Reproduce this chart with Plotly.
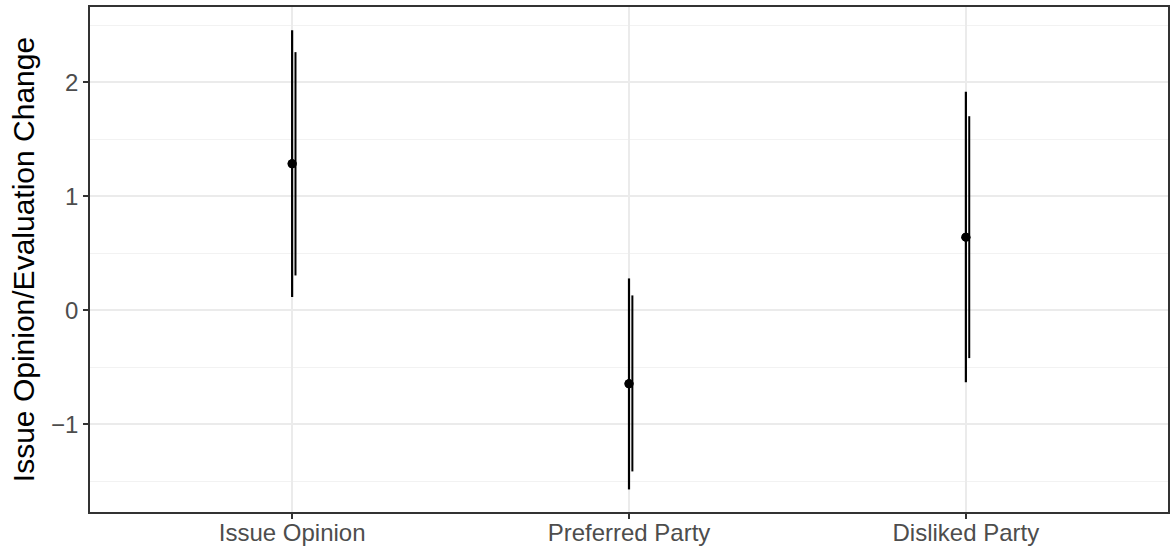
import plotly.graph_objects as go

categories = ["Issue Opinion", "Preferred Party", "Disliked Party"]
estimate = [1.287, -0.643, 0.643]
lo95 = [0.117, -1.570, -0.629]
hi95 = [2.459, 0.281, 1.918]
lo90 = [0.307, -1.412, -0.418]
hi90 = [2.266, 0.132, 1.704]

y_ticks = [-1, 0, 1, 2]
dodge = 0.01  # horizontal shift of the inner interval (axis units)

xpos = list(range(1, len(categories) + 1))
FONT = "Liberation Sans, Arial, Helvetica, sans-serif"

fig = go.Figure()

# outer (long) interval + point estimate
fig.add_trace(go.Scatter(
    x=xpos, y=estimate, mode="markers",
    marker=dict(color="black", size=9),
    error_y=dict(type="data", symmetric=False,
                 array=[h - e for h, e in zip(hi95, estimate)],
                 arrayminus=[e - l for e, l in zip(estimate, lo95)],
                 color="black", thickness=2.2, width=0),
    showlegend=False, hoverinfo="skip"))

# inner (short) interval, slightly dodged
fig.add_trace(go.Scatter(
    x=[x + dodge for x in xpos], y=estimate, mode="markers",
    marker=dict(color="rgba(0,0,0,0)", size=1),
    error_y=dict(type="data", symmetric=False,
                 array=[h - e for h, e in zip(hi90, estimate)],
                 arrayminus=[e - l for e, l in zip(estimate, lo90)],
                 color="black", thickness=2, width=0),
    showlegend=False, hoverinfo="skip"))

# redraw points on top
fig.add_trace(go.Scatter(
    x=xpos, y=estimate, mode="markers",
    marker=dict(color="black", size=9),
    showlegend=False, hoverinfo="skip"))

fig.update_layout(
    width=1172, height=546,
    margin=dict(l=90, r=2, t=7, b=34),
    paper_bgcolor="white", plot_bgcolor="white",
    font=dict(family=FONT, size=24, color="#4D4D4D"),
    showlegend=False,
)

fig.update_xaxes(
    range=[0.4, 3.6],
    tickmode="array", tickvals=xpos, ticktext=categories,
    showgrid=True, gridcolor="#EBEBEB", gridwidth=2,
    zeroline=False, automargin=False,
    ticks="outside", ticklen=5, tickwidth=1.5, tickcolor="#333333",
    tickfont=dict(family=FONT, size=24, color="#4D4D4D"),
    ticklabelstandoff=-7,
    showline=True, linecolor="#333333", linewidth=1.5, mirror=True,
)

fig.update_yaxes(
    range=[-1.768, 2.662],
    tickmode="array", tickvals=y_ticks, ticktext=[("\u2212" + str(-v)) if v < 0 else str(v) for v in y_ticks],
    showgrid=True, gridcolor="#EBEBEB", gridwidth=2,
    minor=dict(dtick=0.5, tick0=0, showgrid=True, gridcolor="#F2F2F2", gridwidth=1, ticks=""),
    zeroline=False,
    ticks="outside", ticklen=5, tickwidth=1.5, tickcolor="#333333",
    tickfont=dict(family=FONT, size=24, color="#4D4D4D"),
    showline=True, linecolor="#333333", linewidth=1.5, mirror=True,
    title=dict(text="Issue Opinion/Evaluation Change",
               font=dict(family=FONT, size=30, color="black"), standoff=8),
)

fig.write_html(
    "out.html",
    config={"displayModeBar": False},
    post_script="document.body.style.margin='0';document.body.style.overflow='hidden';",
)
